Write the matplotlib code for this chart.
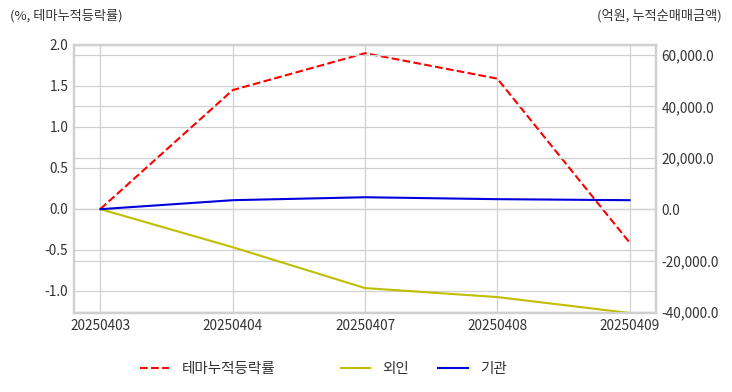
import matplotlib
matplotlib.use("Agg")
import matplotlib.pyplot as plt
from matplotlib.ticker import FuncFormatter

plt.rcParams['font.family'] = ['Noto Sans CJK KR', 'DejaVu Sans']

dates = ["20250403", "20250404", "20250407", "20250408", "20250409"]
theme_rate = [0.0, 1.45, 1.90, 1.59, -0.41]        # %, 테마누적등락률
foreign_net = [0.0, -14800, -30700, -34200, -40400]  # 억원, 외인
inst_net = [0.0, 3500, 4650, 3900, 3500]              # 억원, 기관

fig = plt.figure(figsize=(7.32, 3.92), dpi=100)
ax = fig.add_axes([74 / 732, 1 - 313 / 392, 582 / 732, 268 / 392])
ax2 = ax.twinx()

x = list(range(len(dates)))
l1, = ax.plot(x, theme_rate, color="red", linestyle="--", linewidth=1.5, label="테마누적등락률")
l2, = ax2.plot(x, foreign_net, color="#bfbf00", linewidth=1.5, label="외인")
l3, = ax2.plot(x, inst_net, color="#0000dd", linewidth=1.5, label="기관")

ax.set_xlim(-0.2, 4.2)
ax.set_ylim(-1.27, 2.0)
ax2.set_ylim(-40400, 63900)
ax.set_yticks([-1.0, -0.5, 0.0, 0.5, 1.0, 1.5, 2.0])
ax2.set_yticks([-40000, -20000, 0, 20000, 40000, 60000])
ax.set_xticks(x)
ax.set_xticklabels(dates)
ax2.yaxis.set_major_formatter(FuncFormatter(lambda v, p: f"{v:,.1f}"))
ax.yaxis.set_major_formatter(FuncFormatter(lambda v, p: f"{v:.1f}"))

for a in (ax, ax2):
    a.grid(True, color="#d0d0d0", linewidth=0.9)
    a.tick_params(length=0, labelsize=9.8, labelcolor="#333333", pad=4)
    for s in a.spines.values():
        s.set_color("#d0d0d0")
        s.set_linewidth(1.6)
ax.set_axisbelow(True)
ax2.set_axisbelow(True)
ax.xaxis.grid(True)

fig.text(10 / 732, 1 - 16 / 392, "(%, 테마누적등락률)", fontsize=9.5, color="#333333", va="center")
fig.text(722 / 732, 1 - 16 / 392, "(억원, 누적순매매금액)", fontsize=9.5, color="#333333", va="center", ha="right")

# 범례는 간격이 고르지 않아서 두 개로 나눔
leg_kw = dict(loc="center left", frameon=False, fontsize=10.5, handlelength=2.0,
              handletextpad=0.85, borderpad=0, borderaxespad=0, labelcolor="#333333")
fig.legend(handles=[l1], bbox_to_anchor=(140 / 732, 1 - 369 / 392), **leg_kw)
fig.legend(handles=[l2, l3], bbox_to_anchor=(341 / 732, 1 - 369 / 392), ncol=2,
           columnspacing=2.0, **leg_kw)

fig.savefig("out.png", dpi=100)
